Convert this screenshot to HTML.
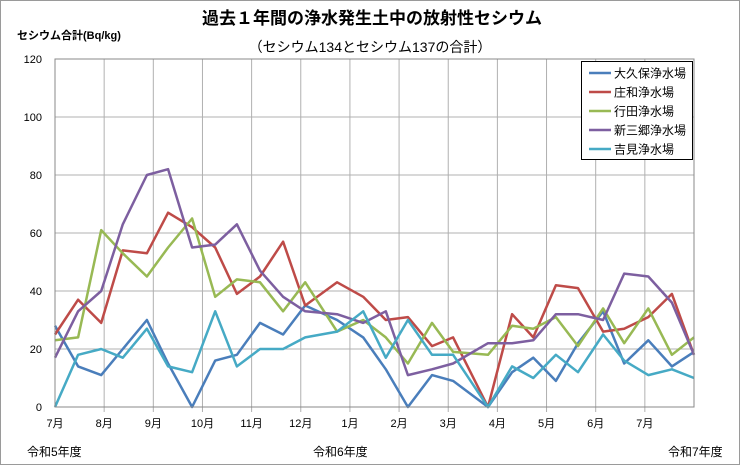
<!DOCTYPE html>
<html><head><meta charset="utf-8"><style>
body{margin:0;background:#fff;}
svg{display:block;font-family:"Liberation Sans","Noto Sans CJK JP",sans-serif;}
</style></head><body>
<svg id="chart" width="740" height="465">
<rect x="0.5" y="0.5" width="739" height="464" fill="#fff" stroke="#9a9a9a"/>
<text x="372" y="24" text-anchor="middle" font-size="17" font-weight="bold" fill="#000">過去１年間の浄水発生土中の放射性セシウム</text>
<text x="370" y="52" text-anchor="middle" font-size="14" fill="#000">（セシウム134とセシウム137の合計）</text>
<text x="17" y="39" font-size="11" font-weight="bold" fill="#000">セシウム合計(Bq/kg)</text>
<g id="grid"></g><g id="series"></g>
<rect x="55" y="59" width="639" height="348" fill="none" stroke="#888"/>
<text x="27" y="456" font-size="12">令和5年度</text>
<text x="313" y="456" font-size="12">令和6年度</text>
<text x="668" y="456" font-size="12">令和7年度</text>
<g id="legend"></g>
</svg>
<script>
const positions=[0,0.47,0.94,1.38,1.87,2.3,2.79,3.26,3.7,4.17,4.64,5.09,5.74,6.27,6.73,7.18,7.67,8.1,8.81,9.3,9.73,10.19,10.64,11.15,11.58,12.07,12.55,13];
const monthLabels=["7月","8月","9月","10月","11月","12月","1月","2月","3月","4月","5月","6月","7月"];
const yTicks=[0,20,40,60,80,100,120];
const okubo=[28,14,11,20,30,15,0,16,18,29,25,35,30,24,13,0,11,9,0,12,17,9,22,33,15,23,14,19];
const showa=[25,37,29,54,53,67,62,55,39,45,57,35,43,38,30,31,21,24,0,32,24,42,41,26,27,31,39,18];
const gyoda=[23,24,61,53,45,55,65,38,44,43,33,43,26,30,24,15,29,19,18,28,27,31,21,34,22,34,18,24];
const shinmisato=[17,33,40,63,80,82,55,56,63,47,38,33,32,29,33,11,13,15,22,22,23,32,32,30,46,45,36,18];
const yoshimi=[0,18,20,17,27,14,12,33,14,20,20,24,26,33,17,30,18,18,0,14,10,18,12,25,16,11,13,10];
const seriesNames=["大久保浄水場","庄和浄水場","行田浄水場","新三郷浄水場","吉見浄水場"];
const seriesData=[okubo,showa,gyoda,shinmisato,yoshimi];
const colors=["#4a7ebb","#be4b48","#98b954","#7d5fa0","#46aac5"];
const NS="http://www.w3.org/2000/svg";
const X0=55,X1=694,Y0=407,Y1=59;
const xScale=m=>X0+(X1-X0)*m/13;
const yScale=v=>Y0-(Y0-Y1)*v/120;
function mk(tag,attrs,parent){const e=document.createElementNS(NS,tag);for(const k in attrs)e.setAttribute(k,attrs[k]);parent.appendChild(e);return e;}
const grid=document.getElementById('grid');
yTicks.forEach(t=>{
  const l=mk('line',{x1:X0,x2:X1,y1:yScale(t),y2:yScale(t),stroke:'#b0b0b0','stroke-width':1},grid);
  
  
  const tx=mk('text',{x:42,y:yScale(t)+4,'text-anchor':'end','font-size':11},grid);
  tx.textContent=t;
  
  
});
for(let k=1;k<13;k++){
  const l=mk('line',{x1:xScale(k),x2:xScale(k),y1:Y1,y2:Y0+5,stroke:'#b0b0b0','stroke-width':1},grid);
  
  
}
monthLabels.forEach((m,k)=>{
  const tx=mk('text',{x:xScale(k),y:427,'text-anchor':'middle','font-size':11},grid);
  tx.textContent=m;
  
  
});
const sg=document.getElementById('series');
seriesData.forEach((d,i)=>{
  const pts=d.map((v,j)=>xScale(positions[j]).toFixed(1)+','+yScale(v).toFixed(1)).join(' ');
  const p=mk('polyline',{points:pts,fill:'none',stroke:colors[i],'stroke-width':2.5,'stroke-linejoin':'round'},sg);
  
  
});
const lg=document.getElementById('legend');
const box=mk('rect',{x:581.5,y:61.5,width:111,height:98,fill:'#fff',stroke:'#000'},lg);


seriesNames.forEach((n,i)=>{
  const y=73+i*19;
  const l=mk('line',{x1:589,x2:611,y1:y,y2:y,stroke:colors[i],'stroke-width':2.5},lg);
  
  
  const t=mk('text',{x:614,y:y+4.5,'font-size':12},lg);
  t.textContent=n;
  
  
});
</script>
</body></html>
